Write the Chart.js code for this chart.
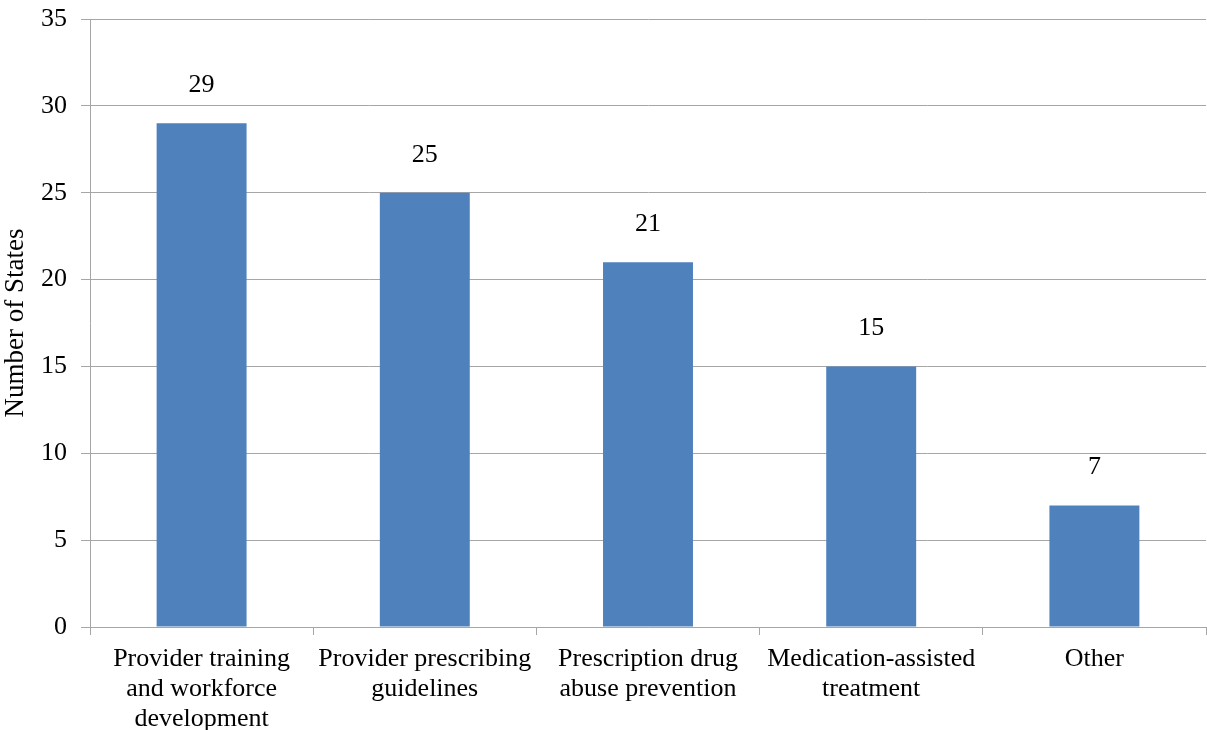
<!DOCTYPE html>
<html>
<head>
<meta charset="utf-8">
<script src="https://cdn.jsdelivr.net/npm/chart.js@4/dist/chart.umd.min.js"></script>
<style>
  html, body { margin: 0; padding: 0; background: #fff; }
  #wrap { width: 1207px; height: 730px; }
</style>
</head>
<body>
<div id="wrap"><canvas id="myChart" width="1207" height="730"></canvas></div>
<script>
// Categories (multi-line labels as in the original)
const categories = [
    ['Provider training', 'and workforce', 'development'],
    ['Provider prescribing', 'guidelines'],
    ['Prescription drug', 'abuse prevention'],
    ['Medication-assisted', 'treatment'],
    ['Other']
];

// Number of states per category
const stateCounts = [29, 25, 21, 15, 7];

// Y axis ticks
const yTicks = [0, 5, 10, 15, 20, 25, 30, 35];

const gridColor = '#a6a6a6';
const fontFamily = '"Liberation Serif", "Times New Roman", serif';

// Draw the value above each bar
const valueLabels = {
    id: 'valueLabels',
    afterDatasetsDraw(chart) {
        const ctx = chart.ctx;
        const meta = chart.getDatasetMeta(0);
        ctx.save();
        ctx.font = '26px ' + fontFamily;
        ctx.fillStyle = '#000';
        ctx.textAlign = 'center';
        ctx.textBaseline = 'middle';
        meta.data.forEach((bar, i) => {
            ctx.fillText(String(stateCounts[i]), bar.x, bar.y - 38);
        });
        ctx.restore();
    }
};

const ctx = document.getElementById('myChart').getContext('2d');
new Chart(ctx, {
    type: 'bar',
    data: {
        labels: categories,
        datasets: [{
            data: stateCounts,
            backgroundColor: '#4f81bd',
            borderWidth: 0,
            barPercentage: 1,
            categoryPercentage: 0.403
        }]
    },
    options: {
        responsive: false,
        animation: false,
        layout: { padding: { top: 19, right: 1, left: 0, bottom: 0 } },
        plugins: {
            legend: { display: false },
            tooltip: { enabled: false }
        },
        scales: {
            x: {
                grid: {
                    offset: true,
                    drawOnChartArea: false,
                    drawTicks: true,
                    tickLength: 8,
                    color: gridColor
                },
                border: { color: gridColor, width: 1 },
                ticks: {
                    color: '#000',
                    padding: 9,
                    maxRotation: 0,
                    autoSkip: false,
                    font: { family: fontFamily, size: 26, lineHeight: 1.16 }
                },
                afterFit(scale) {
                    scale.height = 103;
                    scale.paddingLeft = 0;
                    scale.paddingRight = 0;
                }
            },
            y: {
                min: 0,
                max: 35,
                afterBuildTicks(scale) {
                    scale.ticks = yTicks.map(v => ({ value: v }));
                },
                grid: {
                    color: gridColor,
                    tickLength: 9
                },
                border: { color: gridColor, width: 1 },
                ticks: {
                    color: '#000',
                    padding: 14,
                    font: { family: fontFamily, size: 26 }
                },
                title: {
                    display: true,
                    text: 'Number of States',
                    color: '#000',
                    padding: { top: 0, bottom: 0 },
                    font: { family: fontFamily, size: 27, lineHeight: 1.15 }
                },
                afterFit(scale) {
                    scale.width = 90;
                    scale.paddingTop = 0;
                    scale.paddingBottom = 0;
                }
            }
        }
    },
    plugins: [valueLabels]
});
</script>
</body>
</html>
